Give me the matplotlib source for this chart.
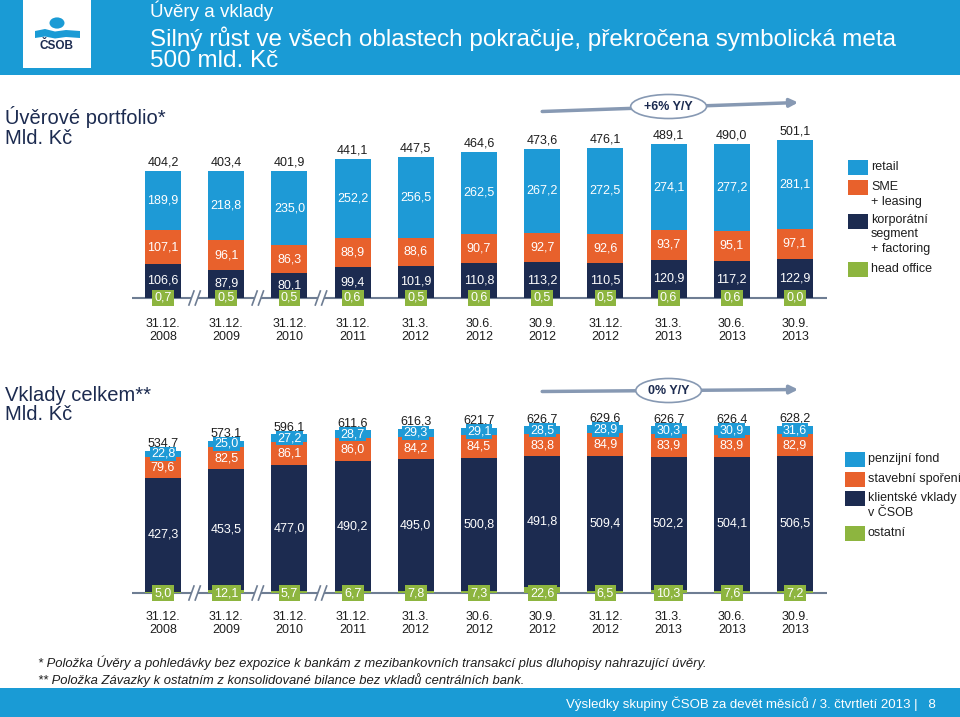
import matplotlib
matplotlib.use("Agg")
import matplotlib.pyplot as plt
from matplotlib.patches import Rectangle, Circle, Polygon

plt.rcParams['font.family'] = ['Liberation Sans', 'DejaVu Sans']

# ---------------- data ----------------
dates = ["31.12.\n2008", "31.12.\n2009", "31.12.\n2010", "31.12.\n2011", "31.3.\n2012",
         "30.6.\n2012", "30.9.\n2012", "31.12.\n2012", "31.3.\n2013", "30.6.\n2013", "30.9.\n2013"]

# Úvěrové portfolio
head_office = [0.7, 0.5, 0.5, 0.6, 0.5, 0.6, 0.5, 0.5, 0.6, 0.6, 0.0]
korporatni = [106.6, 87.9, 80.1, 99.4, 101.9, 110.8, 113.2, 110.5, 120.9, 117.2, 122.9]
sme = [107.1, 96.1, 86.3, 88.9, 88.6, 90.7, 92.7, 92.6, 93.7, 95.1, 97.1]
retail = [189.9, 218.8, 235.0, 252.2, 256.5, 262.5, 267.2, 272.5, 274.1, 277.2, 281.1]
loan_total = [404.2, 403.4, 401.9, 441.1, 447.5, 464.6, 473.6, 476.1, 489.1, 490.0, 501.1]

# Vklady celkem
ostatni = [5.0, 12.1, 5.7, 6.7, 7.8, 7.3, 22.6, 6.5, 10.3, 7.6, 7.2]
klientske = [427.3, 453.5, 477.0, 490.2, 495.0, 500.8, 491.8, 509.4, 502.2, 504.1, 506.5]
stavebni = [79.6, 82.5, 86.1, 86.0, 84.2, 84.5, 83.8, 84.9, 83.9, 83.9, 82.9]
penzijni = [22.8, 25.0, 27.2, 28.7, 29.3, 29.1, 28.5, 28.9, 30.3, 30.9, 31.6]
dep_total = [534.7, 573.1, 596.1, 611.6, 616.3, 621.7, 626.7, 629.6, 626.7, 626.4, 628.2]

loan_growth = "+6% Y/Y"
dep_growth = "0% Y/Y"
break_after = [0, 1, 2]

# ---------------- style ----------------
BLUE = '#1e9ad6'
ORANGE = '#e8612c'
NAVY = '#1c2b50'
GREEN = '#8db53f'
HEADER = '#1a9bd5'
ARROW = '#8799b3'
AXIS = '#6e7d93'
TXT = '#1e1e1e'

W, H = 960, 717
fig = plt.figure(figsize=(W / 100, H / 100), dpi=100)


def fx(x):
    return x / W


def fy(y):
    return 1 - y / H


def fmt(v):
    return f"{v:.1f}".replace('.', ',')


# ---------------- header ----------------
fig.patches.append(Rectangle((0, fy(75)), 1, 75 / H, transform=fig.transFigure,
                             fc=HEADER, ec='none', zorder=0))
fig.patches.append(Rectangle((fx(23), fy(68)), 68 / W, 68 / H, transform=fig.transFigure,
                             fc='white', ec='none', zorder=1))
fig.patches.append(Circle((fx(57), fy(23)), 7.5 / W, transform=fig.transFigure,
                          fc=HEADER, ec='none', zorder=2))
wave = [(35, 31), (45, 29), (55, 31.5), (66, 30), (80, 31), (80, 38), (66, 37), (55, 38.5),
        (45, 36.5), (35, 38)]
fig.patches.append(Polygon([(fx(a), fy(b)) for a, b in wave], closed=True,
                           transform=fig.transFigure, fc=HEADER, ec='none', zorder=2))
fig.text(fx(57), fy(46), "ČSOB", color=NAVY, fontsize=8.5, fontweight='bold',
         ha='center', va='center', zorder=3)

fig.text(fx(150), fy(11), "Úvěry a vklady", color='white', fontsize=13.5,
         ha='left', va='center')
fig.text(fx(150), fy(49), "Silný růst ve všech oblastech pokračuje, překročena symbolická meta\n500 mld. Kč",
         color='white', fontsize=17.5, ha='left', va='center', linespacing=0.97)

# ---------------- footer ----------------
fig.patches.append(Rectangle((0, 0), 1, 29 / H, transform=fig.transFigure,
                             fc=HEADER, ec='none', zorder=0))
fig.text(fx(936), fy(704), "Výsledky skupiny ČSOB za devět měsíců / 3. čtvrtletí 2013 |   8",
         color='white', fontsize=9.5, ha='right', va='center')
fig.text(fx(38), fy(663), "* Položka Úvěry a pohledávky bez expozice k bankám z mezibankovních transakcí plus dluhopisy nahrazující úvěry.",
         color=TXT, fontsize=9.4, style='italic', ha='left', va='center')
fig.text(fx(38), fy(680), "** Položka Závazky k ostatním z konsolidované bilance bez vkladů centrálních bank.",
         color=TXT, fontsize=9.4, style='italic', ha='left', va='center')

# ---------------- section titles ----------------
fig.text(fx(5), fy(117), "Úvěrové portfolio*", color=NAVY, fontsize=14.5, ha='left', va='center')
fig.text(fx(5), fy(138), "Mld. Kč", color=NAVY, fontsize=14.5, ha='left', va='center')
fig.text(fx(5), fy(395), "Vklady celkem**", color=NAVY, fontsize=14.5, ha='left', va='center')
fig.text(fx(5), fy(415), "Mld. Kč", color=NAVY, fontsize=14.5, ha='left', va='center')

# ---------------- axes helper ----------------
X0, STEP = 163, 63.2
LEFT, RIGHT = 132, 827
n = len(dates)
xs = list(range(n))
BW = 36 / STEP


def make_axes(top, bottom, base, scale):
    ax = fig.add_axes([fx(LEFT), fy(bottom), (RIGHT - LEFT) / W, (bottom - top) / H])
    ax.set_xlim((LEFT - X0) / STEP, (RIGHT - X0) / STEP)
    ax.set_ylim(-(bottom - base) / scale, (base - top) / scale)
    ax.axis('off')
    return ax


def baseline(ax, scale):
    xmin, xmax = ax.get_xlim()
    pts = [xmin]
    for b in break_after:
        pts += [b + 0.5 - 0.05, b + 0.5 + 0.05]
    pts.append(xmax)
    for a, b in zip(pts[0::2], pts[1::2]):
        ax.plot([a, b], [0, 0], color=AXIS, lw=1.5, zorder=1, solid_capstyle='butt')
    dy = 7 / scale
    for b in break_after:
        c = b + 0.5
        for off in (-0.05, 0.05):
            ax.plot([c + off - 0.04, c + off + 0.04], [-dy, dy], color=AXIS, lw=1.2, zorder=1)


def growth_arrow(ax, y_left, y_right, y_mid, label):
    ax.annotate("", xy=(10.05, y_right), xytext=(6.0, y_left),
                arrowprops=dict(arrowstyle='-|>', color=ARROW, lw=2.5, mutation_scale=12,
                                shrinkA=0, shrinkB=0))
    ax.text(8.0, y_mid, label, ha='center', va='center', fontsize=9, fontweight='bold',
            color=NAVY, zorder=5,
            bbox=dict(boxstyle='ellipse,pad=0.2', fc='white', ec=ARROW, lw=1.2))


def ticklabels(ax, dist_px, scale):
    for i, lab in enumerate(dates):
        ax.text(i, -dist_px / scale, lab, ha='center', va='top', fontsize=9, color=TXT,
                linespacing=1.15)


# ---------------- loans chart ----------------
s1 = 0.315
ax1 = make_axes(88, 345, 298, s1)
b1 = head_office
b2 = [a + b for a, b in zip(b1, korporatni)]
b3 = [a + b for a, b in zip(b2, sme)]
ax1.bar(xs, head_office, BW, color=GREEN, zorder=2)
ax1.bar(xs, korporatni, BW, bottom=b1, color=NAVY, zorder=2)
ax1.bar(xs, sme, BW, bottom=b2, color=ORANGE, zorder=2)
ax1.bar(xs, retail, BW, bottom=b3, color=BLUE, zorder=2)
baseline(ax1, s1)
for i in xs:
    ax1.text(i, b1[i] + korporatni[i] / 2, fmt(korporatni[i]), ha='center', va='center',
             color='white', fontsize=9, zorder=4)
    ax1.text(i, b2[i] + sme[i] / 2, fmt(sme[i]), ha='center', va='center',
             color='white', fontsize=9, zorder=4)
    ax1.text(i, b3[i] + retail[i] / 2, fmt(retail[i]), ha='center', va='center',
             color='white', fontsize=9, zorder=4)
    ax1.text(i, 0, fmt(head_office[i]), ha='center', va='center', color='white', fontsize=9,
             zorder=4, bbox=dict(boxstyle='square,pad=0.18', fc=GREEN, ec='none'))
    ax1.annotate(fmt(loan_total[i]), xy=(i, b3[i] + retail[i]), xytext=(0, 4),
                 textcoords='offset points', ha='center', va='baseline', fontsize=9, color=TXT)
ticklabels(ax1, 20, s1)
growth_arrow(ax1, (298 - 111.5) / s1, (298 - 102.5) / s1, (298 - 106.5) / s1, loan_growth)

# ---------------- deposits chart ----------------
s2 = 0.266
ax2 = make_axes(378, 645, 593, s2)
d1 = ostatni
d2 = [a + b for a, b in zip(d1, klientske)]
d3 = [a + b for a, b in zip(d2, stavebni)]
ax2.bar(xs, ostatni, BW, color=GREEN, zorder=2)
ax2.bar(xs, klientske, BW, bottom=d1, color=NAVY, zorder=2)
ax2.bar(xs, stavebni, BW, bottom=d2, color=ORANGE, zorder=2)
ax2.bar(xs, penzijni, BW, bottom=d3, color=BLUE, zorder=2)
baseline(ax2, s2)
for i in xs:
    ax2.text(i, d1[i] + klientske[i] / 2, fmt(klientske[i]), ha='center', va='center',
             color='white', fontsize=9, zorder=4)
    ax2.text(i, d2[i] + stavebni[i] / 2, fmt(stavebni[i]), ha='center', va='center',
             color='white', fontsize=9, zorder=4)
    ax2.text(i, d3[i] + penzijni[i] / 2, fmt(penzijni[i]), ha='center', va='center',
             color='white', fontsize=9, zorder=4,
             bbox=dict(boxstyle='square,pad=0.1', fc=BLUE, ec='none'))
    ax2.text(i, 0, fmt(ostatni[i]), ha='center', va='center', color='white', fontsize=9,
             zorder=4, bbox=dict(boxstyle='square,pad=0.18', fc=GREEN, ec='none'))
    ax2.annotate(fmt(dep_total[i]), xy=(i, d3[i] + penzijni[i]), xytext=(0, 3),
                 textcoords='offset points', ha='center', va='baseline', fontsize=9, color=TXT)
ticklabels(ax2, 18, s2)
growth_arrow(ax2, (593 - 391.5) / s2, (593 - 389.5) / s2, (593 - 390.5) / s2, dep_growth)

# ---------------- legends ----------------
def legend(x_sq, items):
    for y_sq, color, lines, y_txt in items:
        fig.patches.append(Rectangle((fx(x_sq), fy(y_sq + 7.5)), 20 / W, 15 / H,
                                     transform=fig.transFigure, fc=color, ec='none'))
        for k, line in enumerate(lines):
            fig.text(fx(x_sq + 23), fy(y_txt + 14.5 * k), line, fontsize=9, color=TXT,
                     ha='left', va='center')


legend(848, [
    (167, BLUE, ["retail"], 167),
    (187, ORANGE, ["SME", "+ leasing"], 187),
    (221, NAVY, ["korporátní", "segment", "+ factoring"], 220),
    (269, GREEN, ["head office"], 269),
])
legend(845, [
    (459, BLUE, ["penzijní fond"], 459),
    (479, ORANGE, ["stavební spoření"], 479),
    (498, NAVY, ["klientské vklady", "v ČSOB"], 498),
    (533, GREEN, ["ostatní"], 533),
])

fig.savefig("out.png", dpi=100)
